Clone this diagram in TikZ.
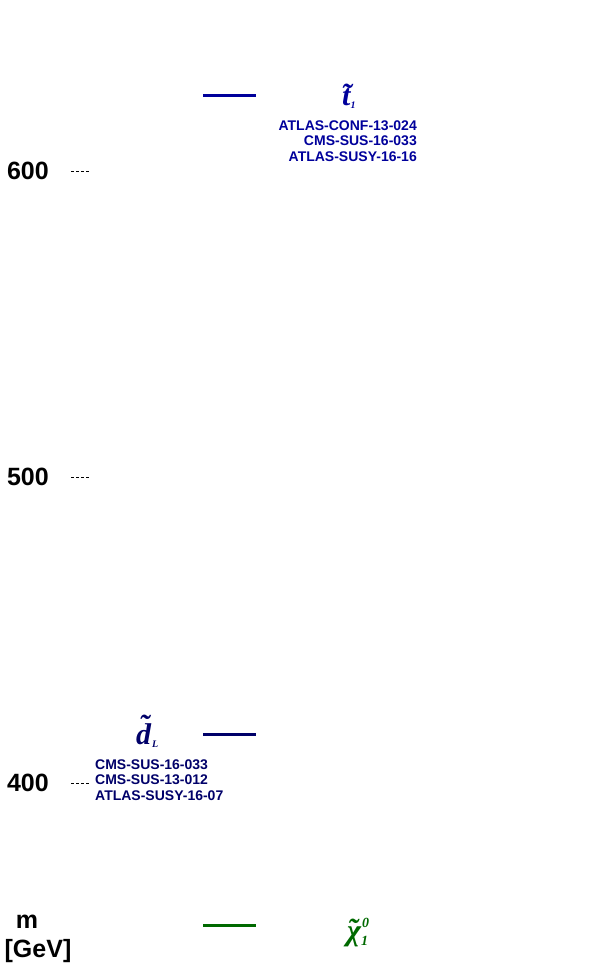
\documentclass[tikz,border=0pt]{standalone}
\usepackage{fontspec}
\setmainfont{Liberation Sans}
\newfontfamily\symfont{Liberation Serif}
\usepackage{tikz}
\usetikzlibrary{positioning,calc}
\definecolor{stopblue}{RGB}{0,0,155}
\definecolor{sqblue}{RGB}{0,0,105}
\definecolor{lspgreen}{RGB}{0,105,0}
\tikzset{
  axislabel/.style={font=\fontsize{25}{28}\selectfont\bfseries, inner sep=0pt},
  tickline/.style={dash pattern=on 3pt off 2pt, line width=0.8pt},
  level/.style={line width=3pt},
  reflist/.style={font=\fontsize{14}{15.5}\selectfont\bfseries, inner sep=0pt},
  partname/.style={inner sep=0pt, anchor=base west}
}
% letter with a tilde set over it
\newcommand{\tildeon}[2]{\ooalign{#2\cr\hidewidth\raisebox{#1}{\char"02DC}\hidewidth\cr}}
\newcommand{\partsym}[3]{{\symfont\fontsize{30}{30}\selectfont\bfseries\itshape \tildeon{#3}{#1}}\raisebox{-3pt}{\symfont\fontsize{10}{10}\selectfont\bfseries\itshape #2}}
\begin{document}
\begin{tikzpicture}[x=1pt, y=-1pt]
    \useasboundingbox (0,0) rectangle (596,972);
    % mass axis
    \foreach \m/\yy in {600/171, 500/477, 400/783} {
        \node[axislabel, anchor=east] (lab\m) at (49,\yy) {\m};
        \coordinate (tick\m) at (71,\yy);
        \draw[tickline] (tick\m) -- ++(19,0);
    }
    \node[axislabel] (munit) at (27,922) {m};
    \node[axislabel] (gev) at (38,951) {[GeV]};

    % stop
    \coordinate (stopA) at (203,95);
    \coordinate (stopB) at (256,95);
    \draw[level, stopblue] (stopA) -- (stopB);
    \node[partname, text=stopblue] (stop) at (342,105) {\partsym{t}{1}{1pt}};
    \node[reflist, text=stopblue, align=right, anchor=base east] (stopref) at (417,161)
        {ATLAS-CONF-13-024\\CMS-SUS-16-033\\ATLAS-SUSY-16-16};

    % sdown
    \coordinate (sdA) at (203,734);
    \coordinate (sdB) at (256,734);
    \draw[level, sqblue] (sdA) -- (sdB);
    \node[partname, text=sqblue] (sdown) at (136,744) {\partsym{d\hspace{1pt}}{L}{9pt}};
    \node[reflist, text=sqblue, align=left, anchor=base west] (sdref) at (95,800)
        {CMS-SUS-16-033\\CMS-SUS-13-012\\ATLAS-SUSY-16-07};

    % neutralino
    \coordinate (chiA) at (203,925);
    \coordinate (chiB) at (256,925);
    \draw[level, lspgreen] (chiA) -- (chiB);
    \node[partname, text=lspgreen] (chi) at (344,940)
        {{\symfont\fontsize{30}{30}\selectfont\bfseries\itshape \tildeon{1pt}{\hspace{3pt}χ}}\raisebox{-5pt}{\symfont\fontsize{14}{14}\selectfont\bfseries\itshape 1}\hspace{-6pt}\raisebox{13pt}{\symfont\fontsize{14}{14}\selectfont\bfseries\itshape 0}};
\end{tikzpicture}
\end{document}
